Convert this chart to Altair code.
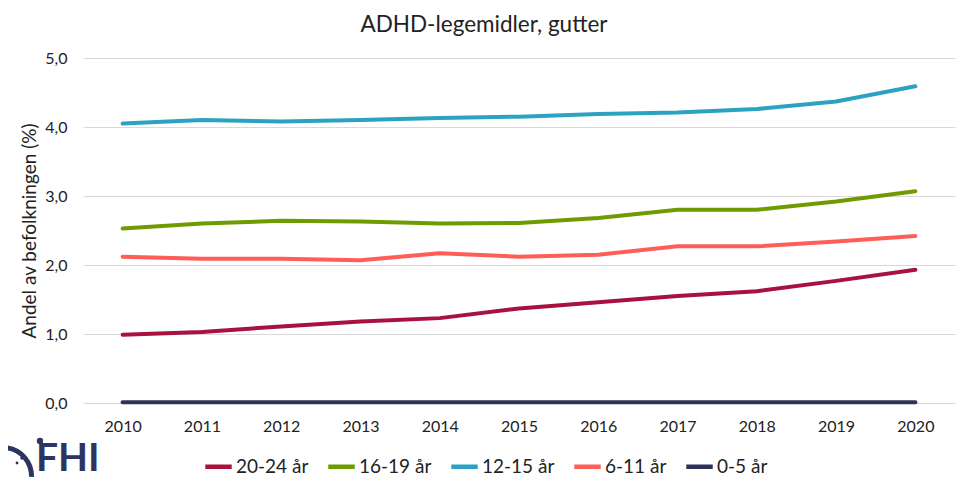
import altair as alt
import pandas as pd

years = [2010, 2011, 2012, 2013, 2014, 2015, 2016, 2017, 2018, 2019, 2020]
groups = ["20-24 år", "16-19 år", "12-15 år", "6-11 år", "0-5 år"]
colors = ["#A8123F", "#6E9C00", "#2CA2C3", "#FF5E57", "#2E3259"]

v_20_24 = [0.99, 1.03, 1.11, 1.18, 1.23, 1.37, 1.46, 1.55, 1.62, 1.77, 1.93]
v_16_19 = [2.53, 2.60, 2.64, 2.63, 2.60, 2.61, 2.68, 2.80, 2.80, 2.92, 3.07]
v_12_15 = [4.05, 4.10, 4.08, 4.10, 4.13, 4.15, 4.19, 4.21, 4.26, 4.37, 4.59]
v_6_11 = [2.12, 2.09, 2.09, 2.07, 2.17, 2.12, 2.15, 2.27, 2.27, 2.34, 2.42]
v_0_5 = [0.01, 0.01, 0.01, 0.01, 0.01, 0.01, 0.01, 0.01, 0.01, 0.01, 0.01]

series = [v_20_24, v_16_19, v_12_15, v_6_11, v_0_5]
rows = []
for g, vals in zip(groups, series):
    for y, v in zip(years, vals):
        rows.append({"year": str(y), "group": g, "value": v})
df = pd.DataFrame(rows)

FONT = "Lato"
LOGO = "#2E3460"

lines = alt.Chart(df).mark_line(strokeWidth=4, strokeCap="round").encode(
    x=alt.X("year:O", scale=alt.Scale(type="point", padding=0.5),
            axis=alt.Axis(title=None, labelAngle=0, tickSize=0, domain=False,
                          labelPadding=15, labelFontSize=16, labelColor="#222",
                          labelFont=FONT)),
    y=alt.Y("value:Q", scale=alt.Scale(domain=[0, 5]),
            axis=alt.Axis(title="Andel av befolkningen (%)", values=[0, 1, 2, 3, 4, 5],
                          labelExpr="replace(format(datum.value, '.1f'), '.', ',')",
                          tickSize=0, domain=False, labelPadding=16,
                          labelFontSize=16, labelColor="#222", labelFont=FONT,
                          titleFont=FONT, titleFontSize=19, titleFontWeight="normal",
                          titleColor="#222", titlePadding=5,
                          gridColor="#D9D9D9", gridWidth=1.2)),
    color=alt.Color("group:N", scale=alt.Scale(domain=groups, range=colors),
                    legend=alt.Legend(title=None, orient="none", direction="horizontal",
                                      columns=5, legendX=120, legendY=393,
                                      symbolType="stroke", symbolStrokeWidth=4.5,
                                      symbolSize=700, labelFontSize=19,
                                      labelFont=FONT, labelColor="#222",
                                      columnPadding=10, symbolOffset=0,
                                      labelOffset=2)),
    order=alt.Order("year:O"),
)

logo_text = alt.Chart(pd.DataFrame({"t": ["FHI"]})).mark_text(
    font=FONT, fontSize=39, fontWeight="bold", color=LOGO, align="left", baseline="bottom"
).encode(text="t:N", x=alt.value(-47), y=alt.value(421))

logo_arc = alt.Chart(pd.DataFrame({"t": ["a"]})).mark_arc(
    color=LOGO, radius=31, radius2=26, theta=0.15, theta2=1.6
).encode(x=alt.value(-80), y=alt.value(418))

logo_dots = alt.Chart(pd.DataFrame({"s": [40, 12, 8], "px": [-43, -61, -66], "py": [383, 400, 405]})).mark_circle(
    color=LOGO, opacity=1
).encode(x=alt.X("px:Q", scale=None), y=alt.Y("py:Q", scale=None),
         size=alt.Size("s:Q", scale=None, legend=None))

chart = alt.layer(lines, logo_text, logo_arc, logo_dots).properties(
    width=872, height=345,
    title=alt.TitleParams("ADHD-legemidler, gutter", font=FONT, fontSize=22.5,
                          fontWeight="normal", color="#222", offset=14, dx=-35),
    autosize=alt.AutoSizeParams(type="none"),
    padding={"left": 75, "top": 50, "right": 7, "bottom": 77},
).configure_view(stroke=None)

chart.save("out.html", embed_options={"renderer": "svg", "actions": False})
